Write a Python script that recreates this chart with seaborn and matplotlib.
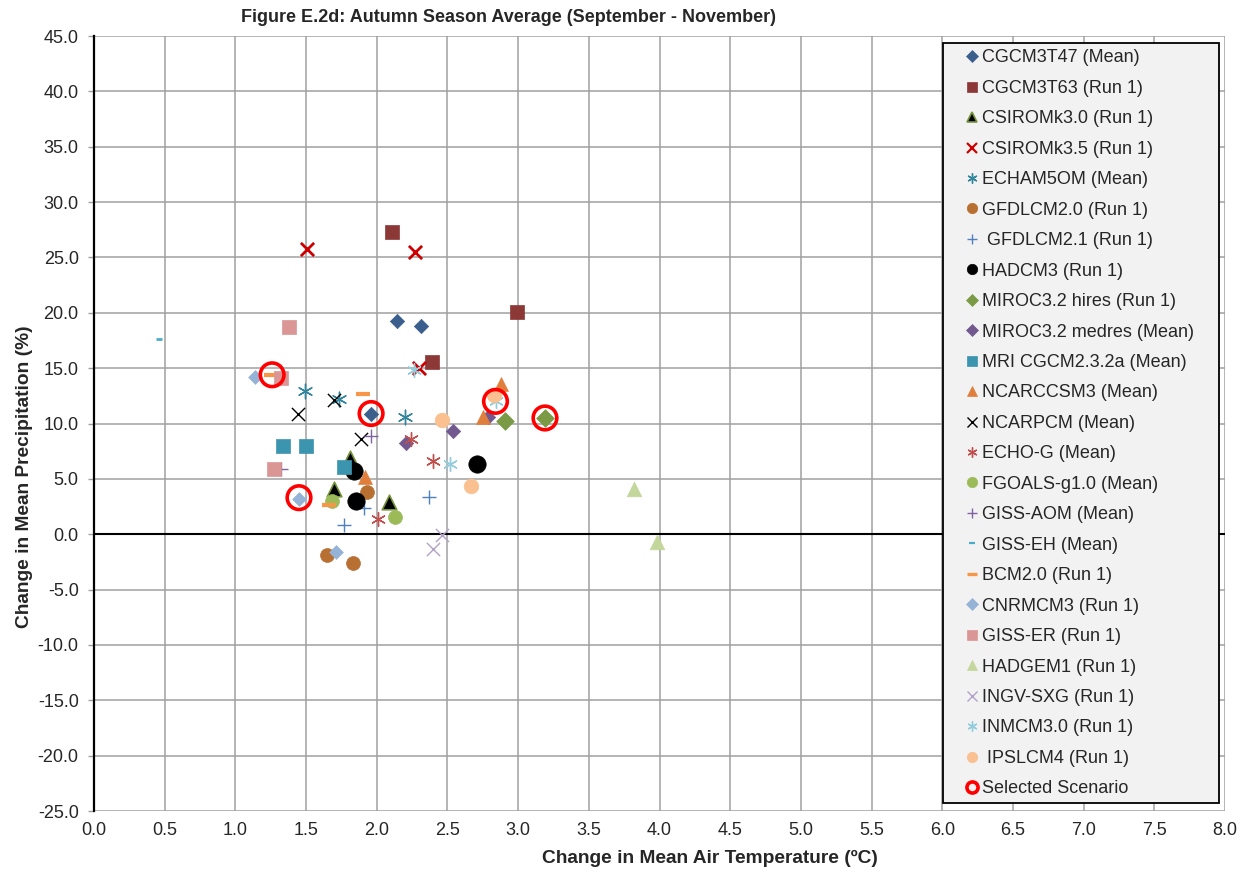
import matplotlib
matplotlib.use("Agg")
import matplotlib.pyplot as plt
from matplotlib.lines import Line2D
from matplotlib.markers import MarkerStyle
from matplotlib.patches import Rectangle
import seaborn as sns
import numpy as np

#%% data (change in temperature degC, change in precipitation %)
model_names = ["CGCM3T47 (Mean)", "CGCM3T63 (Run 1)", "CSIROMk3.0 (Run 1)", "CSIROMk3.5 (Run 1)",
               "ECHAM5OM (Mean)", "GFDLCM2.0 (Run 1)", " GFDLCM2.1 (Run 1)", "HADCM3 (Run 1)",
               "MIROC3.2 hires (Run 1)", "MIROC3.2 medres (Mean)", "MRI CGCM2.3.2a (Mean)",
               "NCARCCSM3 (Mean)", "NCARPCM (Mean)", "ECHO-G (Mean)", "FGOALS-g1.0 (Mean)",
               "GISS-AOM (Mean)", "GISS-EH (Mean)", "BCM2.0 (Run 1)", "CNRMCM3 (Run 1)",
               "GISS-ER (Run 1)", "HADGEM1 (Run 1)", "INGV-SXG (Run 1)", "INMCM3.0 (Run 1)",
               " IPSLCM4 (Run 1)"]

temp_change = [
    [2.14, 2.31, 1.96],
    [2.11, 2.99, 2.39],
    [1.81, 1.70, 2.09],
    [1.51, 2.27, 2.30],
    [1.49, 1.73, 2.20],
    [1.93, 1.65, 1.83],
    [1.77, 2.37, 1.91],
    [1.84, 1.85, 2.71],
    [2.91, 3.19],
    [2.79, 2.54, 2.21],
    [1.34, 1.50, 1.77],
    [2.88, 2.75, 1.92],
    [1.44, 1.70, 1.89],
    [2.24, 2.40, 2.01],
    [1.68, 2.13],
    [1.96, 1.32],
    [0.46],
    [1.25, 1.90, 1.66],
    [1.14, 1.45, 1.71],
    [1.38, 1.32, 1.27],
    [3.82, 3.98],
    [2.46, 2.40],
    [2.26, 2.84, 2.52],
    [2.46, 2.67, 2.83],
]
precip_change = [
    [19.3, 18.8, 10.9],
    [27.3, 20.1, 15.6],
    [6.9, 4.1, 2.9],
    [25.8, 25.5, 15.0],
    [12.9, 12.2, 10.6],
    [3.8, -1.9, -2.6],
    [0.8, 3.4, 2.4],
    [5.7, 3.0, 6.3],
    [10.2, 10.5],
    [10.6, 9.3, 8.2],
    [8.0, 8.0, 6.1],
    [13.6, 10.6, 5.2],
    [10.9, 12.1, 8.6],
    [8.6, 6.6, 1.4],
    [3.0, 1.6],
    [8.9, 5.9],
    [17.6],
    [14.4, 12.7, 2.6],
    [14.2, 3.2, -1.6],
    [18.7, 14.1, 5.9],
    [4.1, -0.7],
    [-0.1, -1.3],
    [14.8, 12.0, 6.3],
    [10.3, 4.4, 12.6],
]

selected_temp = [1.26, 1.96, 1.45, 2.84, 3.19]
selected_precip = [14.4, 10.9, 3.3, 12.0, 10.5]

#%% marker styles (marker, face colour, edge colour, size pt, line width)
asterisk = (6, 2, 0)
styles = [
    ("D", "#3A5F8D", "#3A5F8D", 7.3, 0.5),
    ("s", "#8C3836", "#8C3836", 10, 0.5),
    ("^", "black", "#77933C", 10.5, 1.2),
    ("x", "#CC0000", None, 9.5, 2.0),
    (asterisk, "#31859C", None, 10.5, 1.0),
    ("o", "#B86F32", "#B86F32", 10, 0.5),
    ("+", "#4F81BD", None, 9.5, 1.0),
    ("o", "black", "black", 12.5, 0.5),
    ("D", "#7A9A45", "#7A9A45", 9, 0.5),
    ("D", "#71588F", "#71588F", 7.3, 0.5),
    ("s", "#3C95AE", "#3C95AE", 10, 0.5),
    ("^", "#E07E3C", "#E07E3C", 10, 0.5),
    ("x", "black", None, 9.5, 1.0),
    (asterisk, "#C0504D", None, 10, 1.0),
    ("o", "#9BBB59", "#9BBB59", 10, 0.5),
    ("+", "#8064A2", None, 9.5, 1.0),
    ("_", "#4BACC6", None, 5, 2.0),
    ("_", "#F79646", None, 10, 3.0),
    ("D", "#95B3D7", "#95B3D7", 7, 0.5),
    ("s", "#D99694", "#D99694", 10, 0.5),
    ("^", "#C3D69B", "#C3D69B", 10.5, 0.5),
    ("x", "#B3A2C7", None, 9.5, 1.0),
    (asterisk, "#93CDDD", None, 10, 1.0),
    ("o", "#FAC090", "#FAC090", 10.5, 0.5),
]

#%% plot
sns.set_style("white")
plt.rcParams['font.family'] = ['Liberation Sans', 'DejaVu Sans']

fig = plt.figure(figsize=(12.43, 8.73), dpi=100)
ax = fig.add_axes([94 / 1243, 62 / 873, 1131 / 1243, 775 / 873])

grid_col = "#A0A0A0"
fs = 13
ax.set_xlim(0, 8)
ax.set_ylim(-25, 45)
ax.set_xticks(np.arange(0, 8.01, 0.5))
ax.set_yticks(np.arange(-25, 45.01, 5))
ax.set_xticklabels(["{:.1f}".format(v) for v in np.arange(0, 8.01, 0.5)], fontsize=fs)
ax.set_yticklabels(["{:.1f}".format(v) for v in np.arange(-25, 45.01, 5)], fontsize=fs)
ax.set_axisbelow(True)
ax.grid(True, color=grid_col, linewidth=1.1)
for side in ["top", "right", "bottom"]:
    ax.spines[side].set_visible(False)
ax.spines["left"].set_color("black")
ax.spines["left"].set_linewidth(1.6)
ax.tick_params(axis="y", direction="out", length=4, width=1, color=grid_col, pad=7, left=True)
ax.tick_params(axis="x", length=0, pad=8)
ax.axhline(0, color="black", linewidth=1.5, zorder=1)

handles = []
for name, xs, ys, (mk, fc, ec, size, lw) in zip(model_names, temp_change, precip_change, styles):
    kws = dict(marker=mk, s=size ** 2, linewidth=lw, ax=ax, zorder=3, legend=False)
    if ec is None:
        sns.scatterplot(x=xs, y=ys, color=fc, **kws)
        handles.append(Line2D([], [], linestyle="none", marker=mk, color=fc,
                              markersize=min(size, 9) * 0.8, markeredgewidth=max(lw * 0.8, 1.0)))
    else:
        sns.scatterplot(x=xs, y=ys, color=fc, edgecolor=ec, **kws)
        handles.append(Line2D([], [], linestyle="none", marker=mk, markerfacecolor=fc,
                              markeredgecolor=ec, markersize=7.5 if mk != "D" else 5.8,
                              markeredgewidth=lw))

ring = MarkerStyle("o", fillstyle="none")
sns.scatterplot(x=selected_temp, y=selected_precip, marker=ring, s=17 ** 2, color="#FF0000",
                linewidth=2.6, ax=ax, zorder=4, legend=False)
handles.append(Line2D([], [], linestyle="none", marker="o", markerfacecolor="none",
                      markeredgecolor="#FF0000", markersize=8, markeredgewidth=2.6))
labels = model_names + ["Selected Scenario"]

# legend box (Excel style, grey fill, black border)
box = Rectangle((849 / 1131, 8 / 775), 276 / 1131, 760 / 775, transform=ax.transAxes,
                facecolor="#F2F2F2", edgecolor="black", linewidth=1.3, zorder=9)
ax.add_patch(box)
leg = ax.legend(handles, labels, loc="upper left", bbox_to_anchor=(870 / 1131, 0.9826),
                fontsize=fs, frameon=False, handlelength=0.9,
                handletextpad=0.1, labelspacing=0.745, borderpad=0, borderaxespad=0)
leg.set_zorder(10)

ax.set_xlabel("Change in Mean Air Temperature (ºC)", fontsize=13.8, fontweight="bold")
ax.xaxis.set_label_coords(616 / 1131, -39 / 775)
ax.set_ylabel("Change in Mean Precipitation (%)", fontsize=13.8, fontweight="bold")
ax.yaxis.set_label_coords(-61 / 1131, 334 / 775)
fig.text(508 / 1243, 1 - 17 / 873, "Figure E.2d: Autumn Season Average (September - November)",
         ha="center", va="center", fontsize=13, fontweight="bold")

fig.savefig("out.png", dpi=100)
